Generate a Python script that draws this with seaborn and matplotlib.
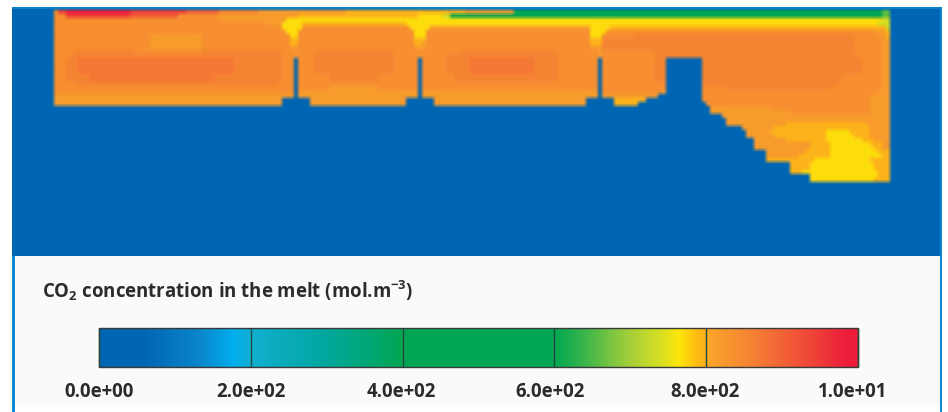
import numpy as np
import pandas as pd
import seaborn as sns
import matplotlib
matplotlib.use("Agg")
import matplotlib.pyplot as plt
from matplotlib.colors import LinearSegmentedColormap
from matplotlib.patches import Rectangle
from matplotlib.transforms import ScaledTranslation

sns.set_theme(style="white")
plt.rcParams["font.family"] = ["Open Sans", "DejaVu Sans"]
plt.rcParams["mathtext.fontset"] = "custom"
plt.rcParams["mathtext.bf"] = "Open Sans:bold"
plt.rcParams["mathtext.rm"] = "Open Sans:bold"
plt.rcParams["mathtext.default"] = "bf"

TITLE = r"$\mathbf{CO_2}$ concentration in the melt (mol.m$\mathbf{^{-3}}$)"
TICK_VALUES = [0, 200, 400, 600, 800, 1000]
TICK_LABELS = ["0.0e+00", "2.0e+02", "4.0e+02", "6.0e+02", "8.0e+02", "1.0e+01"]

# colour scale
SCALE_VALUES = [0, 60, 133, 177, 200, 300, 400, 600, 640, 700, 740, 765, 790, 810,
                860, 905, 945, 985, 1000]
SCALE_COLORS = ["#0066b3", "#0066b3", "#0a85cb", "#00aeef", "#12aed0", "#00a79d", "#00a651",
                "#00a651", "#3ab54a", "#a6ce39", "#d7df23", "#fde50a", "#fdb913", "#f9a12c",
                "#f58233", "#f15e36", "#ee4037", "#ec1c3a", "#ec1c3a"]

# concentration levels
LEVELS = {"B": 0, "G": 560, "g": 660, "L": 735, "Y": 770, "y": 795, "A": 820, "O": 838,
          "P": 856, "Q": 872, "T": 905, "R": 945, "S": 985}

# field rows, top to bottom: runs of level + number of cells; rows pad with blue on the right
mid_a = "B11 O3 P3 Q39 P12 O3 B1 O4 P20 O6 B1 O6 P6 Q16 P6 O10 B1 O13 P3 B9 P40 O5 A2"
mid_b = "B11 O3 P6 Q31 P17 O3 B1 O8 P12 O10 B1 O8 P26 O10 B1 O13 P3 B9 P35 O10 A2"
FIELD_ROWS = [
    "B233",
    "B11 O1 R2 S16 R14 T8 P10 A22 y30 A12 G92 g2",
    "B11 O3 R16 T12 O10 A20 y30 Y6 L2 G108 g2",
    "B11 O41 A17 Y45 Y104 L2",
    "B11 O53 A4 Y5 y26 Y7 Y38 Y7 Y66 L3",
    "B11 O57 Y5 O27 Y5 A40 Y5 y66 y3 L1",
    "B11 O58 Y3 O29 Y3 O41 Y4 O67 A3 y1",
    "B11 O24 A13 O22 Y2 O29 Y3 O41 Y3 O8 P55 O6 A2 y1",
    "B11 O24 A13 O22 y2 O29 y3 O41 y3 P63 O7 A2",
    "B11 O24 A13 O22 y2 O29 y2 A1 O41 y3 P63 O7 A2",
    "B11 O24 A13 O22 A2 O29 A3 O41 A3 P63 O7 A2",
    "B11 O5 P15 O17 P20 O9 P19 O17 P23 O11 A1 O13 P50 O7 A2",
    "B11 O4 P53 O3 A1 O4 P20 O6 A1 O6 P28 O10 A1 O14 P50 O6 A2",
    mid_a,
    mid_a,
    mid_a,
    mid_a,
    mid_b,
    mid_b,
    "B11 O6 P50 O4 B1 O30 B1 O44 B1 O16 B9 P34 O11 A2",
    "B11 O60 B1 O8 A12 O10 B1 O44 B1 O16 B9 O6 P26 O13 A2",
    "B11 O60 B1 A30 B1 A44 B1 O15 A1 B9 O44 A3",
    "B11 A60 B1 A30 B1 A44 B1 A14 B11 O42 A5",
    "B11 A57 B7 A24 B7 A38 B7 y8 B14 O42 A5",
    "B11 A57 B7 A24 B7 A38 B7 y6 B17 O41 A5",
    "B175 A15 O25 A5",
    "B175 A20 O20 A5",
    "B178 A42",
    "B179 A41",
    "B179 A15 y20 A6",
    "B183 A8 y24 A5",
    "B184 A6 y14 Y6 y5 A5",
    "B184 A7 y13 Y7 y4 A5",
    "B186 A8 y10 Y9 y3 A4",
    "B186 A14 y5 Y10 y3 A2",
    "B186 A14 y5 Y11 y2 A2",
    "B189 A10 y6 Y12 y3",
    "B189 A8 y8 Y13 y2",
    "B189 y12 Y14 y5",
    "B195 y5 Y16 y4",
    "B195 y5 Y16 y4",
    "B195 y3 Y19 y3",
    "B200 Y17 y3",
    "B200 Y16 y4",
]
N_COLS, N_ROWS = 233, 63


def decode(row):
    vals = []
    for run in row.split():
        vals += [LEVELS[run[0]]] * int(run[1:])
    return vals + [0] * (N_COLS - len(vals))


matrix = [decode(r) for r in FIELD_ROWS]
matrix += [[0] * N_COLS] * (N_ROWS - len(matrix))
field = pd.DataFrame(matrix, dtype=float)

cmap = LinearSegmentedColormap.from_list(
    "melt", [(v / 1000, c) for v, c in zip(SCALE_VALUES, SCALE_COLORS)], N=1024)

W, H = 948, 412
fig = plt.figure(figsize=(W / 100, H / 100), dpi=100, facecolor="white")


def box(x0, y0, x1, y1):
    return [x0 / W, 1 - y1 / H, (x1 - x0) / W, (y1 - y0) / H]


# frame and pale panel
fig.add_artist(Rectangle((14 / W, 1 - 405 / H), 926 / W, 149 / H, transform=fig.transFigure,
                         facecolor="#fafbf9", edgecolor="none", zorder=0))
for x, w, y0 in ((12, 3, 0), (940, 2.2, 0)):
    fig.add_artist(Rectangle((x / W, y0), w / W, 1 - 7 / H, transform=fig.transFigure,
                             facecolor="#0f8ad2", edgecolor="none", zorder=0))
fig.add_artist(Rectangle((12 / W, 1 - 9 / H), 930 / W, 2 / H, transform=fig.transFigure,
                         facecolor="#0a80c8", edgecolor="none", zorder=5))

ax = fig.add_axes(box(12, 8, 940, 256))
cax = fig.add_axes(box(99, 328, 858, 367))
sns.heatmap(field, ax=ax, cmap=cmap, vmin=0, vmax=1000, shading="gouraud",
            xticklabels=False, yticklabels=False, cbar_ax=cax,
            cbar_kws={"orientation": "horizontal", "ticks": TICK_VALUES})
ax.set_xlim(0, N_COLS - 1)
ax.set_ylim(N_ROWS - 1, 0)
ax.set_xlabel("")
ax.set_ylabel("")

cbar = ax.collections[0].colorbar
cbar.set_ticklabels(TICK_LABELS)
cbar.outline.set_edgecolor("#3a3a3a")
cbar.outline.set_linewidth(1.0)
cbar.outline.set_visible(True)
cax.set_axisbelow(False)
cax.tick_params(axis="x", direction="in", bottom=True, length=28, width=1.0, color="#1f4a40",
                pad=11, labelsize=13.4, labelcolor="#2b2b2b")
LABEL_SHIFT = [0, 0, -1, -4, -1, -5]
for lab, dx in zip(cax.get_xticklabels(), LABEL_SHIFT):
    lab.set_fontweight("bold")
    lab.set_transform(lab.get_transform() + ScaledTranslation(dx / 100, 0, fig.dpi_scale_trans))

fig.text(42 / W, 1 - 298 / H, TITLE, fontsize=13.4, fontweight="bold", color="#2b2b2b",
         ha="left", va="baseline")

fig.savefig("out.png", dpi=100, facecolor="white")
